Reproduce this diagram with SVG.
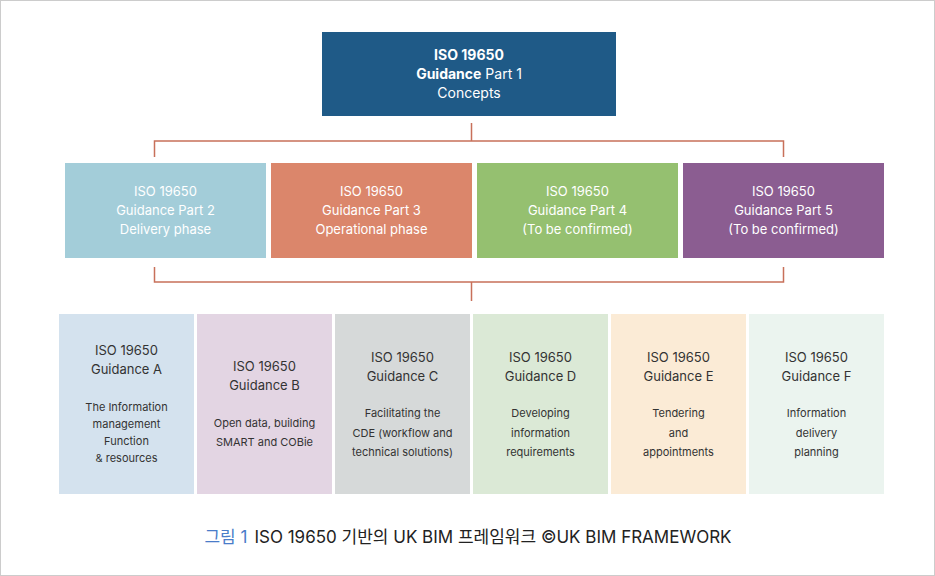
<svg xmlns="http://www.w3.org/2000/svg" width="935" height="576" viewBox="0 0 935 576">
<style>
text{font-family:Inter,"Noto Sans","Noto Sans CJK KR",sans-serif;text-anchor:middle}
.t1{font-size:14px;fill:#fff}
.t2{font-size:13px;fill:#fff}
.h3{font-size:13px;fill:#333}
.b3{font-size:11px;fill:#333}
.con{fill:none;stroke:#c8705a;stroke-width:1.5}
</style>
<rect x="0.5" y="0.5" width="934" height="575" fill="#fff" stroke="#cccccc"/>
<g id="connectors">
<path class="con" d="M471.5 123V141M154.5 157V141H783.5V157"/>
<path class="con" d="M154.5 267V282H783.5V267M471.5 282V301"/>
</g>
<g id="part1">
<rect x="322" y="32" width="294" height="84" fill="#1f5a87"/>
<text class="t1" x="469" y="60" font-weight="bold">ISO 19650</text>
<text class="t1" x="469" y="79"><tspan font-weight="bold">Guidance</tspan> Part 1</text>
<text class="t1" x="469" y="98">Concepts</text>
</g>
<g id="part2">
<rect x="65" y="163" width="201" height="95" fill="#a3cdd9"/>
<text class="t2" x="165.5" y="196">ISO 19650</text>
<text class="t2" x="165.5" y="215">Guidance Part 2</text>
<text class="t2" x="165.5" y="234">Delivery phase</text>
</g>
<g id="part3">
<rect x="271" y="163" width="201" height="95" fill="#db866b"/>
<text class="t2" x="371.5" y="196">ISO 19650</text>
<text class="t2" x="371.5" y="215">Guidance Part 3</text>
<text class="t2" x="371.5" y="234">Operational phase</text>
</g>
<g id="part4">
<rect x="477" y="163" width="201" height="95" fill="#95c070"/>
<text class="t2" x="577.5" y="196">ISO 19650</text>
<text class="t2" x="577.5" y="215">Guidance Part 4</text>
<text class="t2" x="577.5" y="234">(To be confirmed)</text>
</g>
<g id="part5">
<rect x="683" y="163" width="201" height="95" fill="#8b5d91"/>
<text class="t2" x="783.5" y="196">ISO 19650</text>
<text class="t2" x="783.5" y="215">Guidance Part 5</text>
<text class="t2" x="783.5" y="234">(To be confirmed)</text>
</g>
<g id="guidanceA">
<rect x="59" y="314" width="135" height="180" fill="#d4e2ee"/>
<text class="h3" x="126.5" y="355">ISO 19650</text>
<text class="h3" x="126.5" y="374">Guidance A</text>
<text class="b3" x="126.5" y="411">The Information</text>
<text class="b3" x="126.5" y="428">management</text>
<text class="b3" x="126.5" y="445">Function</text>
<text class="b3" x="126.5" y="462">&amp; resources</text>
</g>
<g id="guidanceB">
<rect x="197" y="314" width="135" height="180" fill="#e3d5e3"/>
<text class="h3" x="264.5" y="371">ISO 19650</text>
<text class="h3" x="264.5" y="390">Guidance B</text>
<text class="b3" x="264.5" y="427">Open data, building</text>
<text class="b3" x="264.5" y="446">SMART and COBie</text>
</g>
<g id="guidanceC">
<rect x="335" y="314" width="135" height="180" fill="#d6d9d9"/>
<text class="h3" x="402.5" y="362">ISO 19650</text>
<text class="h3" x="402.5" y="381">Guidance C</text>
<text class="b3" x="402.5" y="417">Facilitating the</text>
<text class="b3" x="402.5" y="437">CDE (workflow and</text>
<text class="b3" x="402.5" y="456">technical solutions)</text>
</g>
<g id="guidanceD">
<rect x="473" y="314" width="135" height="180" fill="#dbe9d6"/>
<text class="h3" x="540.5" y="362">ISO 19650</text>
<text class="h3" x="540.5" y="381">Guidance D</text>
<text class="b3" x="540.5" y="417">Developing</text>
<text class="b3" x="540.5" y="437">information</text>
<text class="b3" x="540.5" y="456">requirements</text>
</g>
<g id="guidanceE">
<rect x="611" y="314" width="135" height="180" fill="#fbebd6"/>
<text class="h3" x="678.5" y="362">ISO 19650</text>
<text class="h3" x="678.5" y="381">Guidance E</text>
<text class="b3" x="678.5" y="417">Tendering</text>
<text class="b3" x="678.5" y="437">and</text>
<text class="b3" x="678.5" y="456">appointments</text>
</g>
<g id="guidanceF">
<rect x="749" y="314" width="135" height="180" fill="#ebf4ef"/>
<text class="h3" x="816.5" y="362">ISO 19650</text>
<text class="h3" x="816.5" y="381">Guidance F</text>
<text class="b3" x="816.5" y="417">Information</text>
<text class="b3" x="816.5" y="437">delivery</text>
<text class="b3" x="816.5" y="456">planning</text>
</g>
<g id="caption">
<text x="468" y="543" style="font-size:17px;fill:#222"><tspan fill="#4a7cc9">그림 1</tspan><tspan dx="7">ISO 19650 기반의 UK BIM 프레임워크 ©UK BIM FRAMEWORK</tspan></text>
</g>
</svg>
